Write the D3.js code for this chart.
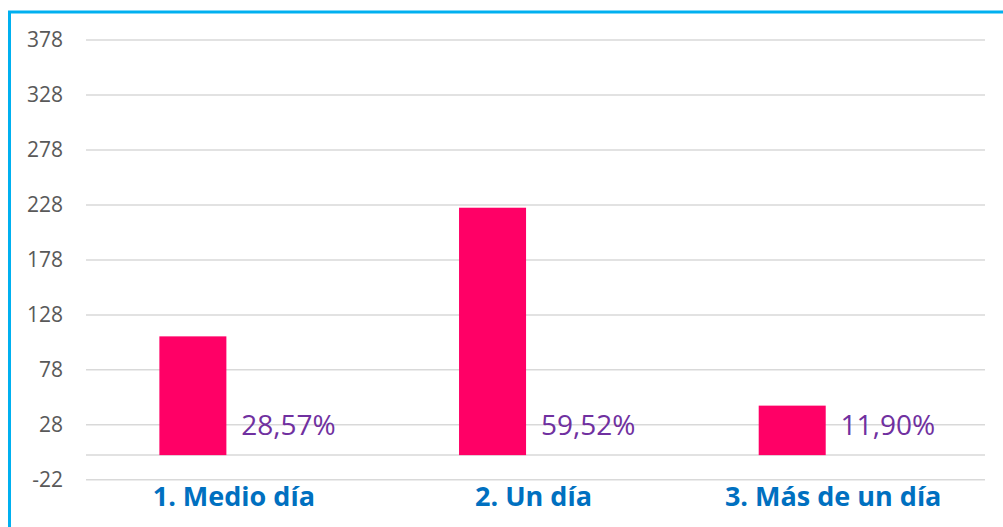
<!DOCTYPE html>
<html>
<head>
<meta charset="utf-8">
<script src="https://cdn.jsdelivr.net/npm/d3@7"></script>
<style>
  body { margin: 0; background: #fff; }
  svg { display: block; }
</style>
</head>
<body>
<div id="chart"></div>
<script>
// chart data
const categories = ["1. Medio día", "2. Un día", "3. Más de un día"];
const counts = [108, 225, 45];
const percentLabels = ["28,57%", "59,52%", "11,90%"];
const yTicks = [-22, 28, 78, 128, 178, 228, 278, 328, 378];

const width = 1003;
const height = 527;
const plot = { left: 86, right: 985, top: 39.5, bottom: 479.3 };

const svg = d3.select("#chart")
  .append("svg")
  .attr("width", width)
  .attr("height", height);

// blue frame, only top and left visible in the crop
svg.append("rect")
  .attr("x", 9.5)
  .attr("y", 12)
  .attr("width", 1100)
  .attr("height", 700)
  .attr("fill", "none")
  .attr("stroke", "#00b0f0")
  .attr("stroke-width", 3);

const y = d3.scaleLinear()
  .domain([-22, 378])
  .range([plot.bottom, plot.top]);

const x = d3.scaleBand()
  .domain(categories)
  .range([plot.left, plot.right]);

// two slots per category: the bar and its percentage label
const xSub = d3.scaleBand()
  .domain(["count", "pct"])
  .range([0, x.bandwidth()])
  .paddingInner(0.22)
  .paddingOuter(0.854);

// gridlines + tick labels
const yAxis = d3.axisLeft(y)
  .tickValues(yTicks)
  .tickSize(-(plot.right - plot.left))
  .tickPadding(23)
  .tickFormat(d => d);

const gy = svg.append("g")
  .attr("transform", "translate(" + plot.left + ",0)")
  .call(yAxis);

gy.select(".domain").remove();
gy.selectAll(".tick line")
  .attr("stroke", "#d9d9d9")
  .attr("stroke-width", 1.5);
gy.selectAll(".tick text")
  .attr("fill", "#595959")
  .style("font-family", "'Open Sans', sans-serif")
  .style("font-size", "21px");

// zero baseline
svg.append("line")
  .attr("x1", plot.left)
  .attr("x2", plot.right)
  .attr("y1", y(0))
  .attr("y2", y(0))
  .attr("stroke", "#d9d9d9")
  .attr("stroke-width", 1.5);

// bars
svg.selectAll("rect.bar")
  .data(counts)
  .enter()
  .append("rect")
  .attr("class", "bar")
  .attr("x", (d, i) => x(categories[i]) + xSub("count"))
  .attr("y", d => y(d))
  .attr("width", xSub.bandwidth())
  .attr("height", d => y(0) - y(d))
  .attr("fill", "#ff0066");

// percentage labels
svg.selectAll("text.pct")
  .data(percentLabels)
  .enter()
  .append("text")
  .attr("class", "pct")
  .attr("x", (d, i) => x(categories[i]) + xSub("pct") - 4)
  .attr("y", y(0) - 20)
  .attr("fill", "#7030a0")
  .style("font-family", "'Open Sans', sans-serif")
  .style("font-size", "28px")
  .text(d => d);

// category labels
svg.selectAll("text.cat")
  .data(categories)
  .enter()
  .append("text")
  .attr("class", "cat")
  .attr("x", d => x(d) + x.bandwidth() / 2 - 2)
  .attr("y", 506)
  .attr("text-anchor", "middle")
  .attr("fill", "#0070c0")
  .style("font-family", "'Open Sans', sans-serif")
  .style("font-weight", "bold")
  .style("font-size", "27px")
  .text(d => d);
</script>
</body>
</html>
